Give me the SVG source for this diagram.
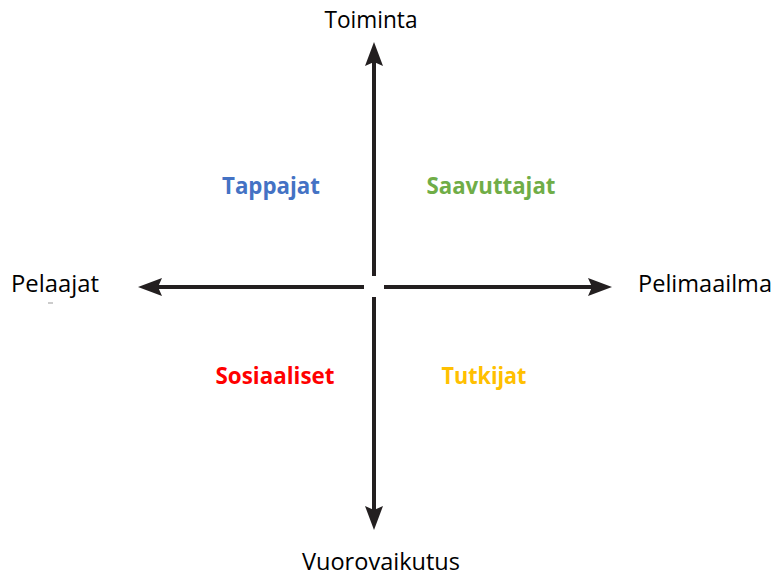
<svg xmlns="http://www.w3.org/2000/svg" width="773" height="576" viewBox="0 0 773 576">
  <style>
    .axis { stroke: #231f20; stroke-width: 4; fill: none; }
    .head { fill: #231f20; }
    .lbl { font-family: "Open Sans", "Noto Sans", sans-serif; font-size: 23px; fill: #000; }
    .q { font-family: "Open Sans", "Noto Sans", sans-serif; font-size: 22.5px; font-weight: bold; }
  </style>
  <rect width="773" height="576" fill="#fff"/>
  <g id="connectors">
    <line class="axis" x1="374" y1="60" x2="374" y2="276"/>
    <path class="head" d="M374,42 L383,66 L374,62 L365,66 Z"/>
    <line class="axis" x1="374" y1="297" x2="374" y2="512"/>
    <path class="head" d="M374,530 L383,506 L374,510 L365,506 Z"/>
    <line class="axis" x1="155" y1="287" x2="364" y2="287"/>
    <path class="head" d="M138,287 L162,278 L158,287 L162,296 Z"/>
    <line class="axis" x1="384" y1="287" x2="596" y2="287"/>
    <path class="head" d="M612,287 L588,278 L592,287 L588,296 Z"/>
  </g>
  <g id="axis-top"><text class="lbl" x="371" y="28" text-anchor="middle" textLength="93" lengthAdjust="spacingAndGlyphs">Toiminta</text></g>
  <g id="axis-bottom"><text class="lbl" x="381" y="570" text-anchor="middle" font-size="22" textLength="158" lengthAdjust="spacingAndGlyphs">Vuorovaikutus</text></g>
  <g id="axis-left">
    <text class="lbl" x="11" y="292" textLength="88" lengthAdjust="spacingAndGlyphs">Pelaajat</text>
    <line x1="48" y1="303" x2="53" y2="303" stroke="#999" stroke-width="1"/>
  </g>
  <g id="axis-right"><text class="lbl" x="638" y="292" textLength="134" lengthAdjust="spacingAndGlyphs">Pelimaailma</text></g>
  <g id="tappajat"><text class="q" x="271" y="194" text-anchor="middle" fill="#4472c4" textLength="98" lengthAdjust="spacingAndGlyphs">Tappajat</text></g>
  <g id="saavuttajat"><text class="q" x="491" y="194" text-anchor="middle" fill="#70ad47" textLength="129" lengthAdjust="spacingAndGlyphs">Saavuttajat</text></g>
  <g id="sosiaaliset"><text class="q" x="275" y="384" text-anchor="middle" fill="#ff0000" textLength="119" lengthAdjust="spacingAndGlyphs">Sosiaaliset</text></g>
  <g id="tutkijat"><text class="q" x="484" y="384" text-anchor="middle" fill="#ffc000" textLength="85" lengthAdjust="spacingAndGlyphs">Tutkijat</text></g>
</svg>
